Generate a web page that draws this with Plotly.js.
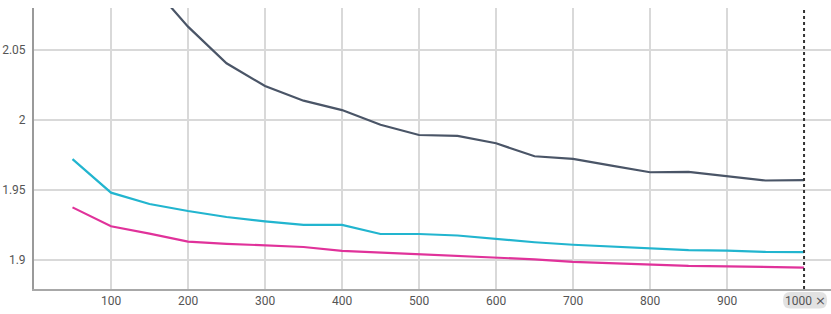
<!DOCTYPE html>
<html>
<head>
<meta charset="utf-8">
<script src="https://cdn.plot.ly/plotly-3.0.1.min.js"></script>
<style>html,body{margin:0;padding:0;background:#fff;}#chart{width:831px;height:314px;}</style>
</head>
<body>
<div id="chart"></div>
<script>
const steps = [50,100,150,200,250,300,350,400,450,500,550,600,650,700,750,800,850,900,950,1000];
const seriesDark = [2.20,2.14,2.098,2.0667,2.0405,2.0243,2.0138,2.0071,1.9966,1.9893,1.9886,1.9834,1.9741,1.9722,1.9674,1.9627,1.9630,1.9598,1.9568,1.9571];
const seriesCyan = [1.9721,1.9481,1.9400,1.9350,1.9307,1.9276,1.9251,1.9251,1.9186,1.9186,1.9175,1.9149,1.9127,1.9109,1.9096,1.9081,1.9071,1.9067,1.9058,1.9056];
const seriesMagenta = [1.9376,1.9241,1.9189,1.9131,1.9116,1.9102,1.9093,1.9065,1.9054,1.9039,1.9027,1.9019,1.9005,1.8987,1.8977,1.8967,1.8958,1.8955,1.8949,1.8946];
const xTickVals = [100,200,300,400,500,600,700,800,900];
const yTickVals = [1.9,1.95,2,2.05];
const yTickText = ['1.9','1.95','2','2.05'];
const markerStep = 1000;
const markerLabel = '1000 <span style="font-family:\'DejaVu Sans\';font-size:13px">\u00d7</span>';

const traces = [
  {x: steps, y: seriesDark, mode: 'lines', line: {color: '#4a5567', width: 2.2}, hoverinfo: 'skip'},
  {x: steps, y: seriesCyan, mode: 'lines', line: {color: '#22b5cf', width: 2.2}, hoverinfo: 'skip'},
  {x: steps, y: seriesMagenta, mode: 'lines', line: {color: '#e0329a', width: 2.2}, hoverinfo: 'skip'}
];

const layout = {
  width: 831, height: 314,
  margin: {l: 34, r: 0, t: 8, b: 25, pad: 0},
  paper_bgcolor: '#fff', plot_bgcolor: '#fff',
  showlegend: false,
  font: {family: 'Roboto, "Noto Sans", sans-serif', size: 12, color: '#555'},
  xaxis: {
    range: [0, 1035], tickvals: xTickVals, ticks: '', showgrid: true,
    gridcolor: '#d9d9d9', gridwidth: 1.2, zeroline: false,
    showline: true, linecolor: '#a8a8a8', linewidth: 1.5,
    tickfont: {size: 12, color: '#555'}, fixedrange: true
  },
  yaxis: {
    range: [1.8793, 2.08], tickvals: yTickVals, ticktext: yTickText, ticks: '',
    showgrid: true, gridcolor: '#d9d9d9', gridwidth: 1.2, zeroline: false,
    showline: true, linecolor: '#9a9a9a', linewidth: 2,
    tickfont: {size: 12, color: '#555'}, ticklabelstandoff: 4, fixedrange: true
  },
  shapes: [
    {type: 'line', xref: 'x', yref: 'paper', x0: markerStep, x1: markerStep, y0: 0, y1: 1,
     line: {color: '#333', width: 2, dash: 'dot'}},
    {type: 'path', xref: 'x', yref: 'paper', xsizemode: 'pixel', ysizemode: 'pixel',
     xanchor: markerStep, yanchor: 0,
     path: 'M -14,-3 L 16,-3 Q 23,-3 23,-10.5 L 23,-12 Q 23,-19.5 16,-19.5 L -14,-19.5 Q -21,-19.5 -21,-12 L -21,-10.5 Q -21,-3 -14,-3 Z',
     fillcolor: '#e2e2e2', line: {width: 0}, layer: 'above'}
  ],
  annotations: [
    {x: markerStep, xref: 'x', y: 0, yref: 'paper', yanchor: 'top', xanchor: 'center', xshift: 1, yshift: -2,
     text: markerLabel, showarrow: false, font: {size: 12, color: '#555'}}
  ]
};

Plotly.newPlot('chart', traces, layout, {displayModeBar: false, staticPlot: true});
</script>
</body>
</html>
